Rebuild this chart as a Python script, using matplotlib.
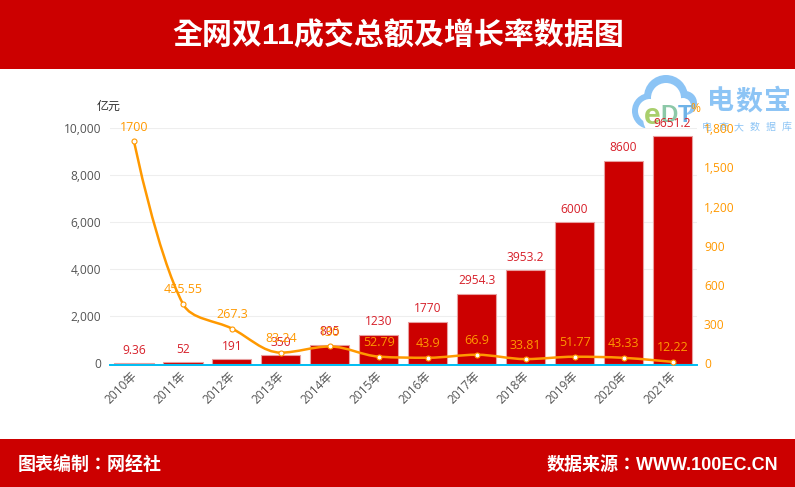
import numpy as np
import matplotlib
matplotlib.use("Agg")
import matplotlib.pyplot as plt
from matplotlib.patches import Rectangle, Circle, PathPatch
from matplotlib.path import Path
from matplotlib.transforms import ScaledTranslation

years = ["2010年", "2011年", "2012年", "2013年", "2014年", "2015年", "2016年", "2017年", "2018年", "2019年", "2020年", "2021年"]
gmv = [9.36, 52, 191, 350, 805, 1230, 1770, 2954.3, 3953.2, 6000, 8600, 9651.2]
growth = [1700, 455.55, 267.3, 83.24, 130, 52.79, 43.9, 66.9, 33.81, 51.77, 43.33, 12.22]
left_ticks = [0, 2000, 4000, 6000, 8000, 10000]
right_ticks = [0, 300, 600, 900, 1200, 1500, 1800]
title = "全网双11成交总额及增长率数据图"
footer_left = "图表编制：网经社"
footer_right = "数据来源：WWW.100EC.CN"

BASE = ['Open Sans', 'Noto Sans CJK SC', 'DejaVu Sans']
HEAD = ['Liberation Sans', 'Noto Sans CJK TC', 'DejaVu Sans']
plt.rcParams['font.family'] = BASE
W, H = 795, 487
RED = "#cc0000"
ORANGE = "#ff9900"
fig = plt.figure(figsize=(W / 100, H / 100), dpi=100)
px = 0.72

def fx(x): return x / W
def fy(y): return 1 - y / H

fig.patches.append(Rectangle((0, fy(69)), 1, 69 / H, transform=fig.transFigure, color=RED, lw=0))
fig.patches.append(Rectangle((0, 0), 1, 48 / H, transform=fig.transFigure, color=RED, lw=0))
fig.text(fx(398), fy(36), title, color="white", fontsize=30 * px, fontweight="bold", ha="center", va="center", family=HEAD)
fig.text(fx(18), fy(465.5), footer_left, color="white", fontsize=18 * px, fontweight="bold", ha="left", va="center", family=HEAD)
fig.text(fx(778), fy(465.5), footer_right, color="white", fontsize=18 * px, fontweight="bold", ha="right", va="center", family=HEAD)

# watermark logo, underneath the transparent chart axes
logo = fig.add_axes([0, 0, 1, 1], facecolor="none", zorder=0)
logo.set_xlim(0, W)
logo.set_ylim(H, 0)
logo.axis("off")
CL = "#8cc4f5"
for c, r in [((650, 111), 18), ((666, 97), 22), ((685, 103), 12)]:
    logo.add_patch(Circle(c, r, color=CL, lw=0))
for c, r in [((650, 111), 12), ((666, 98), 15), ((683, 106), 8), ((665, 118), 22)]:
    logo.add_patch(Circle(c, r, color="white", lw=0))
logo.text(652, 116, "e", fontsize=30 * px, color="#a9cf6d", ha="center", va="center", fontweight="bold", family=HEAD)
logo.text(669, 115, "D", fontsize=24 * px, color="#8cc8a8", ha="center", va="center", fontweight="bold", family=HEAD)
logo.text(685, 115, "T", fontsize=24 * px, color="#6fb3e8", ha="center", va="center", fontweight="bold", family=HEAD)
for cx, ch in zip([720, 749, 778], "电数宝"):
    logo.text(cx, 102, ch, fontsize=27 * px, color=CL, ha="center", va="center", fontweight="bold", family=HEAD)
for cx, ch in zip(np.arange(6) * 16 + 707, "电商大数据库"):
    logo.text(cx, 127, ch, fontsize=10 * px, color=CL, ha="center", va="center", family=HEAD)

L, R, T, B = 109.5, 697, 128, 363.5
ax = fig.add_axes([fx(L), fy(B), (R - L) / W, (B - T) / H], facecolor="none", zorder=2)
ax.set_xlim(-0.5, 11.5)
ax.set_ylim(0, 10000)
x = np.arange(len(years))
ax.bar(x, gmv, width=0.8, color=RED, edgecolor="#e8a0a0", linewidth=0.8, zorder=2)
ax.set_yticks(left_ticks)
ax.set_yticklabels([f"{v:,}" for v in left_ticks], fontsize=12 * px, color="#555555")
ax.set_xticks(x)
ax.set_xticklabels(years)
ax.tick_params(axis="y", length=0, pad=6)
ax.tick_params(axis="x", length=0, pad=4)
ax.grid(axis="y", color="#eeeeee", lw=0.8, zorder=0)
for s in ["top", "left", "right"]:
    ax.spines[s].set_visible(False)
ax.spines["bottom"].set_color("#00bdf2")
ax.spines["bottom"].set_linewidth(1.4)
ax.spines["bottom"].set_position(("outward", 0.8))

ax2 = ax.twinx()
ax2.set_ylim(0, 1800)
ax2.set_yticks(right_ticks)
ax2.set_yticklabels([f"{v:,}" for v in right_ticks], fontsize=12 * px, color=ORANGE)
ax2.tick_params(axis="y", length=0, pad=5)
ax2.set_zorder(3)
for s in ax2.spines.values():
    s.set_visible(False)

# smooth curve through the growth values (pixel-space bezier, collinear clamped tangents)
sx = (R - L) / 12
sy = (B - T) / 1800
P = np.column_stack([x * sx, np.array(growth) * sy])
n = len(P)
smooth = 0.35
cp_out, cp_in = P.copy(), P.copy()
for i in range(1, n - 1):
    prev, cur, nxt = P[i - 1], P[i], P[i + 1]
    d0 = np.linalg.norm(cur - prev)
    d1 = np.linalg.norm(nxt - cur)
    v = nxt - prev
    c_out = cur + v * smooth * d1 / (d0 + d1)
    c_out = np.clip(c_out, np.minimum(nxt, cur), np.maximum(nxt, cur))
    c_in = cur - (c_out - cur) * d0 / d1
    c_in = np.clip(c_in, np.minimum(prev, cur), np.maximum(prev, cur))
    c_out = cur + (cur - c_in) * d1 / d0
    cp_in[i], cp_out[i] = c_in, c_out
verts = [P[0]]
codes = [Path.MOVETO]
for i in range(n - 1):
    verts += [cp_out[i], cp_in[i + 1], P[i + 1]]
    codes += [Path.CURVE4] * 3
verts = np.array(verts) / np.array([sx, sy])
ax2.add_patch(PathPatch(Path(verts, codes), fc="none", ec=ORANGE, lw=1.8, zorder=3, clip_on=False))
ax2.plot(x, growth, ls="none", marker="o", ms=3.6, mfc="white", mec=ORANGE, mew=0.8, zorder=4, clip_on=False)

for xi, v in zip(x, gmv):
    ax.annotate(f"{v:g}", (xi, v), xytext=(0, 13), textcoords="offset pixels", ha="center", va="center",
                fontsize=12 * px, color="#d7202a", zorder=7, annotation_clip=False)
for xi, v in zip(x, growth):
    ax2.annotate(f"{v:g}", (xi, v), xytext=(0, 14), textcoords="offset pixels", ha="center", va="center",
                 fontsize=12.5 * px, color=ORANGE, zorder=7, annotation_clip=False)

fig.text(fx(109), fy(106), "亿元", fontsize=12 * px, color="#333333", ha="center", va="center", zorder=5)
fig.text(fx(695), fy(108), "%", fontsize=12 * px, color=ORANGE, ha="center", va="center", zorder=8)

# rotate, style and nudge the category labels last, after every tick update
shift = ScaledTranslation(-3 / 100, 1 / 100, fig.dpi_scale_trans)
ax.tick_params(axis="x", labelrotation=45, labelsize=12 * px, labelcolor="#555555")
for lab in ax.get_xticklabels():
    lab.set_transform(lab.get_transform() + shift)
    lab.set_rotation(45)
    lab.set_rotation_mode("anchor")
    lab.set_ha("right")
    lab.set_va("top")
    lab.set_color("#555555")
    lab.set_fontsize(12 * px)

fig.savefig("out.png", dpi=100)
